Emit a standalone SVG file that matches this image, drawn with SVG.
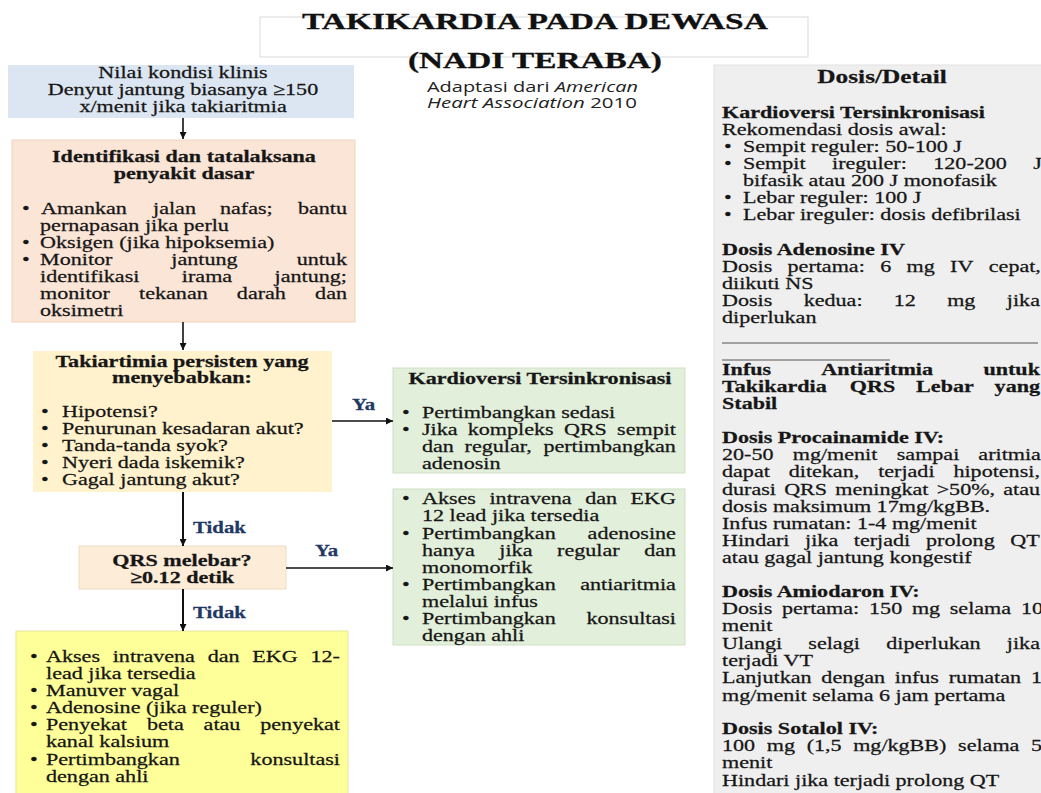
<svg xmlns="http://www.w3.org/2000/svg" width="1041" height="793" viewBox="0 0 1041 793">
<defs>
<style>
.t{font-family:"Liberation Serif","Times New Roman",serif;font-size:17px;fill:#161616;stroke:#161616;stroke-width:0.25}
.b{font-weight:bold}
.c{text-anchor:middle}
.lbl{font-family:"Liberation Serif","Times New Roman",serif;font-size:16px;font-weight:bold;fill:#1f3864;stroke:#1f3864;stroke-width:0.25}
.ttl{font-family:"Liberation Serif","Times New Roman",serif;font-size:24px;font-weight:bold;fill:#111;stroke:#111;stroke-width:0.3;text-anchor:middle}
.sub{font-family:"Open Sans","Liberation Sans",sans-serif;font-size:15px;fill:#222}
.ln{stroke:#111;stroke-width:1.6;fill:none}
.ln2{stroke:#111;stroke-width:2;fill:none}
</style>
<marker id="ah" markerWidth="7" markerHeight="7" refX="7" refY="3.5" orient="auto" markerUnits="userSpaceOnUse"><path d="M0,0 L7,3.5 L0,7 z" fill="#111"/></marker>
</defs>
<rect width="1041" height="793" fill="#ffffff"/>

<g id="title">
<rect x="260" y="17" width="548" height="40" fill="#ffffff" stroke="#d9d9d9" stroke-width="1"/>
<g transform="scale(1.3 1)">
<text class="ttl" x="411.5" y="29.5" textLength="358.5" lengthAdjust="spacingAndGlyphs">TAKIKARDIA PADA DEWASA</text>
<text class="ttl" x="411.5" y="68" textLength="195.4" lengthAdjust="spacingAndGlyphs">(NADI TERABA)</text>
</g>
<text class="sub" x="427" y="92" textLength="211" lengthAdjust="spacingAndGlyphs">Adaptasi dari <tspan font-style="italic">American</tspan></text>
<text class="sub" x="427" y="108" textLength="210" lengthAdjust="spacingAndGlyphs"><tspan font-style="italic">Heart Association</tspan> 2010</text>
</g>

<g id="n1">
<rect x="8" y="65" width="346" height="53" fill="#dce6f2"/>
<g transform="scale(1.3 1)">
<text class="t c" x="140.8" y="78">Nilai kondisi klinis</text>
<text class="t c" x="140.8" y="95">Denyut jantung biasanya ≥150</text>
<text class="t c" x="140.8" y="112">x/menit jika takiaritmia</text>
</g>
</g>

<g id="n2">
<rect x="12" y="140" width="343" height="182" fill="#fbe5d6" stroke="#f2d3bf" stroke-width="1"/>
<g transform="scale(1.3 1)">
<text class="t b c" x="141.5" y="162">Identifikasi dan tatalaksana</text>
<text class="t b c" x="141.5" y="179">penyakit dasar</text>
<text class="t" x="16.9" y="214">•</text>
<text class="t" x="16.9" y="248">•</text>
<text class="t" x="16.9" y="265">•</text>
<text class="t" y="214"><tspan x="31.5">Amankan</tspan><tspan x="117.7">jalan</tspan><tspan x="169.2">nafas;</tspan><tspan x="229.2">bantu</tspan></text>
<text class="t" x="30.8" y="231">pernapasan jika perlu</text>
<text class="t" x="30.8" y="248">Oksigen (jika hipoksemia)</text>
<text class="t" y="265"><tspan x="30.8">Monitor</tspan><tspan x="131.8">jantung</tspan><tspan x="228.2">untuk</tspan></text>
<text class="t" y="282"><tspan x="30.8">identifikasi</tspan><tspan x="139.9">irama</tspan><tspan x="211.2">jantung;</tspan></text>
<text class="t" y="299"><tspan x="30.8">monitor</tspan><tspan x="107">tekanan</tspan><tspan x="182.2">darah</tspan><tspan x="242.4">dan</tspan></text>
<text class="t" x="30.8" y="316">oksimetri</text>
</g>
</g>

<g id="n3">
<rect x="33" y="351" width="299" height="141" fill="#fff2cc"/>
<g transform="scale(1.3 1)">
<text class="t b c" x="140" y="367">Takiartimia persisten yang</text>
<text class="t b c" x="140" y="383">menyebabkan:</text>
<text class="t" x="31.5" y="417">•</text><text class="t" x="47.7" y="417">Hipotensi?</text>
<text class="t" x="31.5" y="434">•</text><text class="t" x="47.7" y="434">Penurunan kesadaran akut?</text>
<text class="t" x="31.5" y="451">•</text><text class="t" x="47.7" y="451">Tanda-tanda syok?</text>
<text class="t" x="31.5" y="468">•</text><text class="t" x="47.7" y="468">Nyeri dada iskemik?</text>
<text class="t" x="31.5" y="485">•</text><text class="t" x="47.7" y="485">Gagal jantung akut?</text>
</g>
</g>

<g id="n4">
<rect x="393" y="368" width="292" height="105" fill="#e2efda" stroke="#d0e0c5" stroke-width="1"/>
<g transform="scale(1.3 1)">
<text class="t b c" x="415.4" y="384">Kardioversi Tersinkronisasi</text>
<text class="t" x="309.2" y="418">•</text><text class="t" x="324.6" y="418">Pertimbangkan sedasi</text>
<text class="t" x="309.2" y="435">•</text>
<text class="t" y="435"><tspan x="324.6">Jika</tspan><tspan x="359.8">kompleks</tspan><tspan x="433.8">QRS</tspan><tspan x="474.7">sempit</tspan></text>
<text class="t" y="452"><tspan x="324.6">dan</tspan><tspan x="357.4">regular,</tspan><tspan x="418">pertimbangkan</tspan></text>
<text class="t" x="324.6" y="469">adenosin</text>
</g>
</g>

<g id="n5">
<rect x="393" y="489" width="292" height="156" fill="#e2efda" stroke="#d0e0c5" stroke-width="1"/>
<g transform="scale(1.3 1)">
<text class="t" x="309.2" y="504">•</text>
<text class="t" y="504"><tspan x="324.6">Akses</tspan><tspan x="376.5">intravena</tspan><tspan x="450.2">dan</tspan><tspan x="485.1">EKG</tspan></text>
<text class="t" x="324.6" y="521">12 lead jika tersedia</text>
<text class="t" x="309.2" y="539">•</text>
<text class="t" y="539"><tspan x="324.6">Pertimbangkan</tspan><tspan x="452">adenosine</tspan></text>
<text class="t" y="556"><tspan x="324.6">hanya</tspan><tspan x="384.1">jika</tspan><tspan x="428.5">regular</tspan><tspan x="495.5">dan</tspan></text>
<text class="t" x="324.6" y="573">monomorfik</text>
<text class="t" x="309.2" y="590">•</text>
<text class="t" y="590"><tspan x="324.6">Pertimbangkan</tspan><tspan x="446.3">antiaritmia</tspan></text>
<text class="t" x="324.6" y="607">melalui infus</text>
<text class="t" x="309.2" y="624">•</text>
<text class="t" y="624"><tspan x="324.6">Pertimbangkan</tspan><tspan x="451.1">konsultasi</tspan></text>
<text class="t" x="324.6" y="641">dengan ahli</text>
</g>
</g>

<g id="n6">
<rect x="79" y="546" width="207" height="43" fill="#fcecd8" stroke="#eedcc4" stroke-width="1"/>
<g transform="scale(1.3 1)">
<text class="t b c" x="140" y="566">QRS melebar?</text>
<text class="t b c" x="140" y="583">≥0.12 detik</text>
</g>
</g>

<g id="n7">
<rect x="16" y="631" width="332" height="165" fill="#ffff99" stroke="#e6e6a0" stroke-width="1"/>
<g transform="scale(1.3 1)">
<text class="t" x="23.1" y="662">•</text>
<text class="t" y="662"><tspan x="35.4">Akses</tspan><tspan x="86.7">intravena</tspan><tspan x="159.8">dan</tspan><tspan x="194.1">EKG</tspan><tspan x="238.8">12-</tspan></text>
<text class="t" x="35.4" y="679">lead jika tersedia</text>
<text class="t" x="23.1" y="696">•</text><text class="t" x="35.4" y="696">Manuver vagal</text>
<text class="t" x="23.1" y="713">•</text><text class="t" x="35.4" y="713">Adenosine (jika reguler)</text>
<text class="t" x="23.1" y="730">•</text>
<text class="t" y="730"><tspan x="35.4">Penyekat</tspan><tspan x="113">beta</tspan><tspan x="156.6">atau</tspan><tspan x="200.2">penyekat</tspan></text>
<text class="t" x="35.4" y="747">kanal kalsium</text>
<text class="t" x="23.1" y="765">•</text>
<text class="t" y="765"><tspan x="35.4">Pertimbangkan</tspan><tspan x="192.6">konsultasi</tspan></text>
<text class="t" x="35.4" y="782">dengan ahli</text>
</g>
</g>

<g id="n8">
<rect x="714" y="65" width="332" height="735" fill="#efefef" stroke="#e2e2e2" stroke-width="1"/>
<line x1="722" y1="343" x2="1038" y2="343" stroke="#555" stroke-width="1"/>
<line x1="722" y1="360" x2="890" y2="360" stroke="#555" stroke-width="1"/>
<g transform="scale(1.3 1)">
<text class="t b c" x="678.5" y="83" style="font-size:19.5px">Dosis/Detail</text>
<text class="t b" x="555.4" y="118">Kardioversi Tersinkronisasi</text>
<text class="t" x="555.4" y="135">Rekomendasi dosis awal:</text>
<text class="t" x="556.9" y="152">•</text><text class="t" x="571.5" y="152">Sempit reguler: 50-100 J</text>
<text class="t" x="556.9" y="169">•</text>
<text class="t" y="169"><tspan x="571.5">Sempit</tspan><tspan x="640">ireguler:</tspan><tspan x="717.9">120-200</tspan><tspan x="794.9">J</tspan></text>
<text class="t" x="571.5" y="186">bifasik atau 200 J monofasik</text>
<text class="t" x="556.9" y="203">•</text><text class="t" x="571.5" y="203">Lebar reguler: 100 J</text>
<text class="t" x="556.9" y="220">•</text><text class="t" x="571.5" y="220">Lebar ireguler: dosis defibrilasi</text>
<text class="t b" x="555.4" y="255">Dosis Adenosine IV</text>
<text class="t" y="272"><tspan x="555.4">Dosis</tspan><tspan x="605.8">pertama:</tspan><tspan x="677.1">6</tspan><tspan x="697.4">mg</tspan><tspan x="730.8">IV</tspan><tspan x="760.6">cepat,</tspan></text>
<text class="t" x="555.4" y="289">diikuti NS</text>
<text class="t" y="306"><tspan x="555.4">Dosis</tspan><tspan x="618.2">kedua:</tspan><tspan x="687.5">12</tspan><tspan x="728.6">mg</tspan><tspan x="774.5">jika</tspan></text>
<text class="t" x="555.4" y="323">diperlukan</text>
<text class="t b" y="375"><tspan x="555.4">Infus</tspan><tspan x="631.8">Antiaritmia</tspan><tspan x="756.5">untuk</tspan></text>
<text class="t b" y="392"><tspan x="555.4">Takikardia</tspan><tspan x="653.7">QRS</tspan><tspan x="704.7">Lebar</tspan><tspan x="765.1">yang</tspan></text>
<text class="t b" x="555.4" y="409">Stabil</text>
<text class="t b" x="555.4" y="443">Dosis Procainamide IV:</text>
<text class="t" y="460"><tspan x="555.4">20-50</tspan><tspan x="609.8">mg/menit</tspan><tspan x="689.8">sampai</tspan><tspan x="752.6">aritmia</tspan></text>
<text class="t" y="477"><tspan x="555.4">dapat</tspan><tspan x="606.7">ditekan,</tspan><tspan x="675.5">terjadi</tspan><tspan x="733.4">hipotensi,</tspan></text>
<text class="t" y="495"><tspan x="555.4">durasi</tspan><tspan x="603.2">QRS</tspan><tspan x="642.5">meningkat</tspan><tspan x="720.5">&gt;50%,</tspan><tspan x="771.7">atau</tspan></text>
<text class="t" x="555.4" y="512">dosis maksimum 17mg/kgBB.</text>
<text class="t" x="555.4" y="529">Infus rumatan: 1-4 mg/menit</text>
<text class="t" y="546"><tspan x="555.4">Hindari</tspan><tspan x="619.3">jika</tspan><tspan x="656.8">terjadi</tspan><tspan x="712.3">prolong</tspan><tspan x="777.2">QT</tspan></text>
<text class="t" x="555.4" y="563">atau gagal jantung kongestif</text>
<text class="t b" x="555.4" y="597">Dosis Amiodaron IV:</text>
<text class="t" y="614"><tspan x="555.4">Dosis</tspan><tspan x="601.5">pertama:</tspan><tspan x="668.5">150</tspan><tspan x="701.5">mg</tspan><tspan x="730.6">selama</tspan><tspan x="785.3">10</tspan></text>
<text class="t" x="555.4" y="631">menit</text>
<text class="t" y="649"><tspan x="555.4">Ulangi</tspan><tspan x="621.8">selagi</tspan><tspan x="681.7">diperlukan</tspan><tspan x="774.5">jika</tspan></text>
<text class="t" x="555.4" y="666">terjadi VT</text>
<text class="t" y="683"><tspan x="555.4">Lanjutkan</tspan><tspan x="631.8">dengan</tspan><tspan x="688.3">infus</tspan><tspan x="729.8">rumatan</tspan><tspan x="793.1">1</tspan></text>
<text class="t" x="555.4" y="701">mg/menit selama 6 jam pertama</text>
<text class="t b" x="555.4" y="734">Dosis Sotalol IV:</text>
<text class="t" y="751"><tspan x="555.4">100</tspan><tspan x="589.8">mg</tspan><tspan x="620.5">(1,5</tspan><tspan x="656.3">mg/kgBB)</tspan><tspan x="737">selama</tspan><tspan x="793.1">5</tspan></text>
<text class="t" x="555.4" y="768">menit</text>
<text class="t" x="555.4" y="786">Hindari jika terjadi prolong QT</text>
</g>
</g>

<g id="connectors">
<line class="ln" x1="183" y1="118" x2="183" y2="139" marker-end="url(#ah)"/>
<line class="ln" x1="183" y1="322" x2="183" y2="350" marker-end="url(#ah)"/>
<line class="ln" x1="332" y1="421" x2="393" y2="421" marker-end="url(#ah)"/>
<line class="ln2" x1="183" y1="492" x2="183" y2="546" marker-end="url(#ah)"/>
<line class="ln" x1="286" y1="568" x2="393" y2="568" marker-end="url(#ah)"/>
<line class="ln2" x1="183" y1="589" x2="183" y2="631" marker-end="url(#ah)"/>
<g transform="scale(1.3 1)">
<text class="lbl" x="270.8" y="410">Ya</text>
<text class="lbl" x="242.3" y="556">Ya</text>
<text class="lbl" x="148.5" y="533">Tidak</text>
<text class="lbl" x="148.5" y="618">Tidak</text>
</g>
</g>
</svg>
